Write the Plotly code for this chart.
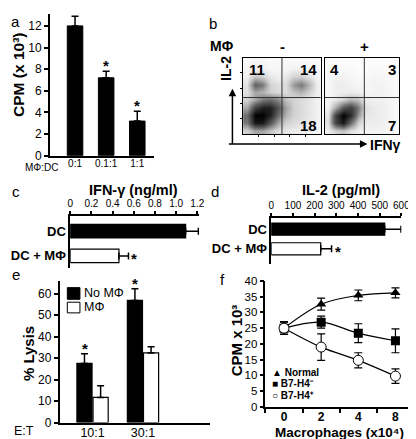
import plotly.graph_objects as go

W, H = 416, 439
FONT = "Arial, Liberation Sans, sans-serif"

def X(p):
    return p / W

def Y(p):
    return 1 - p / H

# ---------------- data ----------------
a_labels = ["0:1", "0.1:1", "1:1"]
a_cpm = [12.0, 7.2, 3.2]
a_err = [0.9, 0.6, 0.9]
a_sig = [False, True, True]

b_quad_neg = [11, 14, 18]   # UL, UR, LR
b_quad_pos = [4, 3, 7]
b_gate_neg = [0.50, 0.48]
b_gate_pos = [0.53, 0.48]
# density grids (rows bottom->top, cols left->right)
b_density_neg = [
    [0.15, 0.30, 0.30, 0.20, 0.10, 0.08, 0.06, 0.05, 0.05, 0.03],
    [0.45, 0.90, 0.90, 0.60, 0.30, 0.15, 0.12, 0.10, 0.07, 0.04],
    [0.50, 1.00, 1.00, 0.85, 0.50, 0.25, 0.15, 0.12, 0.08, 0.04],
    [0.30, 0.70, 0.85, 0.85, 0.60, 0.30, 0.15, 0.12, 0.08, 0.04],
    [0.15, 0.30, 0.45, 0.50, 0.40, 0.20, 0.14, 0.12, 0.08, 0.04],
    [0.10, 0.30, 0.25, 0.15, 0.12, 0.12, 0.20, 0.25, 0.15, 0.05],
    [0.10, 0.55, 0.45, 0.15, 0.10, 0.12, 0.35, 0.45, 0.25, 0.05],
    [0.05, 0.20, 0.15, 0.08, 0.05, 0.08, 0.15, 0.15, 0.10, 0.03],
    [0.03, 0.05, 0.05, 0.03, 0.03, 0.03, 0.05, 0.05, 0.03, 0.02],
    [0.02, 0.03, 0.03, 0.02, 0.02, 0.02, 0.02, 0.02, 0.02, 0.02],
]
b_density_pos = [
    [0.05, 0.15, 0.20, 0.10, 0.05, 0.04, 0.04, 0.04, 0.03, 0.02],
    [0.10, 0.70, 0.90, 0.50, 0.15, 0.06, 0.06, 0.05, 0.04, 0.02],
    [0.08, 0.70, 1.00, 0.80, 0.35, 0.08, 0.07, 0.06, 0.04, 0.02],
    [0.04, 0.30, 0.60, 0.70, 0.45, 0.10, 0.07, 0.06, 0.04, 0.02],
    [0.03, 0.08, 0.15, 0.25, 0.20, 0.06, 0.05, 0.05, 0.03, 0.02],
    [0.02, 0.05, 0.06, 0.06, 0.05, 0.03, 0.04, 0.04, 0.03, 0.02],
    [0.02, 0.06, 0.06, 0.04, 0.03, 0.03, 0.04, 0.04, 0.03, 0.02],
    [0.02, 0.04, 0.04, 0.03, 0.02, 0.02, 0.03, 0.03, 0.02, 0.02],
    [0.01, 0.02, 0.02, 0.02, 0.01, 0.01, 0.02, 0.02, 0.01, 0.01],
    [0.01, 0.01, 0.01, 0.01, 0.01, 0.01, 0.01, 0.01, 0.01, 0.01],
]

c_groups = ["DC", "DC + MΦ"]
c_ifng = [1.09, 0.46]
c_err = [0.12, 0.09]
c_sig = [False, True]

d_il2 = [523, 228]
d_err = [75, 50]
d_sig = [False, True]

e_ratios = ["10:1", "30:1"]
e_no_mf = [27.5, 56.8]
e_no_mf_err = [4.5, 5.4]
e_mf = [11.7, 32.4]
e_mf_err = [5.4, 2.8]
e_sig = [True, True]

f_x = ["0", "2", "4", "8"]
f_normal = [25.0, 32.6, 35.4, 36.2]
f_normal_err = [2.0, 1.9, 1.7, 1.6]
f_b7neg = [25.0, 26.9, 23.4, 21.0]
f_b7neg_err = [2.0, 1.9, 3.0, 3.8]
f_b7pos = [25.0, 19.0, 14.8, 9.8]
f_b7pos_err = [2.0, 4.2, 2.4, 2.3]

# ---------------- figure ----------------
fig = go.Figure()
ann = []
shapes = []

def err_up(arr):
    return dict(type="data", symmetric=False, array=arr, arrayminus=[0] * len(arr),
                color="black", thickness=1.5, width=3.5)

# panel a
fig.add_trace(go.Bar(x=a_labels, y=a_cpm, width=0.5, marker=dict(color="black", line=dict(color="black", width=1)),
                     error_y=err_up(a_err), xaxis="x", yaxis="y"))
for lab, v, e, s in zip(a_labels, a_cpm, a_err, a_sig):
    if s:
        ann.append(dict(x=lab, y=v + e, xref="x", yref="y", text="<b>*</b>", showarrow=False,
                        yanchor="bottom", yshift=-5, font=dict(size=15)))

# panel b
for dens, xa, ya in [(b_density_neg, "x2", "y2"), (b_density_pos, "x3", "y3")]:
    fig.add_trace(go.Heatmap(z=dens, x0=0.05, dx=0.1, y0=0.05, dy=0.1, zsmooth="best",
                             colorscale=[[0, "white"], [0.5, "#6a6a6a"], [1, "black"]], zmin=0, zmax=1,
                             showscale=False, xaxis=xa, yaxis=ya, hoverinfo="skip"))
for gate, xa, ya in [(b_gate_neg, "x2", "y2"), (b_gate_pos, "x3", "y3")]:
    shapes.append(dict(type="line", xref=xa, yref=ya, x0=gate[0], x1=gate[0], y0=0, y1=1,
                       line=dict(color="#333", width=1)))
    shapes.append(dict(type="line", xref=xa, yref=ya, x0=0, x1=1, y0=gate[1], y1=gate[1],
                       line=dict(color="#333", width=1)))
for quads, xa, ya in [(b_quad_neg, "x2", "y2"), (b_quad_pos, "x3", "y3")]:
    pos = [(0.05, 0.85, "left"), (0.98, 0.85, "right"), (0.98, 0.11, "right")]
    for q, (px_, py_, anc) in zip(quads, pos):
        ann.append(dict(x=px_, y=py_, xref=xa, yref=ya, text="<b>%d</b>" % q, showarrow=False,
                        xanchor=anc, font=dict(size=15)))

# panel c
fig.add_trace(go.Bar(y=c_groups, x=c_ifng, orientation="h", width=0.55,
                     marker=dict(color=["black", "white"], line=dict(color="black", width=1.2)),
                     error_x=err_up(c_err), xaxis="x4", yaxis="y4"))
for g, v, e, s in zip(c_groups, c_ifng, c_err, c_sig):
    if s:
        ann.append(dict(x=v + e, y=g, xref="x4", yref="y4", text="<b>*</b>", showarrow=False,
                        xanchor="left", xshift=1, yshift=-3, font=dict(size=15)))

# panel d
fig.add_trace(go.Bar(y=c_groups, x=d_il2, orientation="h", width=0.62,
                     marker=dict(color=["black", "white"], line=dict(color="black", width=1.2)),
                     error_x=err_up(d_err), xaxis="x5", yaxis="y5"))
for g, v, e, s in zip(c_groups, d_il2, d_err, d_sig):
    if s:
        ann.append(dict(x=v + e, y=g, xref="x5", yref="y5", text="<b>*</b>", showarrow=False,
                        xanchor="left", xshift=1, yshift=-3, font=dict(size=15)))

# panel e
fig.add_trace(go.Bar(x=e_ratios, y=e_no_mf, width=0.30, offset=-0.31,
                     marker=dict(color="black", line=dict(color="black", width=1.2)),
                     error_y=err_up(e_no_mf_err), xaxis="x6", yaxis="y6"))
fig.add_trace(go.Bar(x=e_ratios, y=e_mf, width=0.30, offset=0.01,
                     marker=dict(color="white", line=dict(color="black", width=1.2)),
                     error_y=err_up(e_mf_err), xaxis="x6", yaxis="y6"))
for r, v, e, s in zip(e_ratios, e_no_mf, e_no_mf_err, e_sig):
    if s:
        ann.append(dict(x=r, y=v + e, xref="x6", yref="y6", text="<b>*</b>", showarrow=False,
                        xanchor="center", xshift=-8, yanchor="bottom", yshift=-5, font=dict(size=15)))

# panel f
f_series = [
    (f_normal, f_normal_err, dict(symbol="triangle-up", size=9, color="black")),
    (f_b7neg, f_b7neg_err, dict(symbol="square", size=9, color="black")),
    (f_b7pos, f_b7pos_err, dict(symbol="circle", size=10, color="white", line=dict(color="black", width=1))),
]
for vals, errs, mk in f_series:
    fig.add_trace(go.Scatter(x=f_x, y=vals, mode="lines+markers", line=dict(color="black", width=1.2, shape="spline"),
                             marker=mk, error_y=dict(type="data", array=errs, color="black", thickness=1.2, width=4),
                             xaxis="x7", yaxis="y7"))

# ---------------- axes ----------------
base = dict(showgrid=False, zeroline=False, showline=True, linecolor="black", linewidth=1.5,
            ticks="outside", tickcolor="black", tickwidth=1.5, ticklen=4,
            tickfont=dict(family=FONT, size=12, color="black"))

def ax(**kw):
    d = dict(base)
    d.update(kw)
    return d

layout_axes = dict(
    xaxis=ax(domain=[X(40), X(147)], anchor="y", type="category", range=[-0.81, 2.53], ticks="",
             ticklabelstandoff=-2, tickfont=dict(family=FONT, size=10, color="black")),
    yaxis=ax(domain=[Y(146), Y(0)], anchor="x", range=[0, 13.1], tickvals=[0, 2, 4, 6, 8, 10, 12]),
    xaxis2=ax(domain=[X(239), X(319)], anchor="y2", range=[0, 1], linewidth=1, mirror=True,
              tickvals=[0.2, 0.4, 0.6, 0.8], ticklen=2, tickwidth=1, showticklabels=False),
    yaxis2=ax(domain=[Y(124), Y(45)], anchor="x2", range=[0, 1], linewidth=1, mirror=True,
              tickvals=[0.2, 0.4, 0.6, 0.8], ticklen=2, tickwidth=1, showticklabels=False),
    xaxis3=ax(domain=[X(323), X(400)], anchor="y3", range=[0, 1], linewidth=1, mirror=True,
              ticks="", showticklabels=False),
    yaxis3=ax(domain=[Y(124), Y(45)], anchor="x3", range=[0, 1], linewidth=1, mirror=True,
              ticks="", showticklabels=False),
    xaxis4=ax(domain=[X(61), X(194)], anchor="y4", side="top", range=[0, 1.22], ticklen=3,
              tickvals=[0, 0.2, 0.4, 0.6, 0.8, 1.0, 1.2], ticktext=["0", "0.2", "0.4", "0.6", "0.8", "1.0", "1.2"],
              tickfont=dict(family=FONT, size=10, color="black")),
    yaxis4=ax(domain=[Y(262), Y(208)], anchor="x4", type="category", range=[1.5, -0.62], ticks="",
              tickfont=dict(family=FONT, size=13, color="black"),
              ticktext=["<b>%s</b>" % g for g in c_groups], tickvals=c_groups),
    xaxis5=ax(domain=[X(268), X(402)], anchor="y5", side="top", range=[0, 600], ticklen=3,
              tickvals=[0, 100, 200, 300, 400, 500, 600],
              tickfont=dict(family=FONT, size=10, color="black")),
    yaxis5=ax(domain=[Y(258), Y(210)], anchor="x5", type="category", range=[1.79, -0.58], ticks="",
              tickfont=dict(family=FONT, size=13, color="black"),
              ticktext=["<b>%s</b>" % g for g in c_groups], tickvals=c_groups),
    xaxis6=ax(domain=[X(50), X(205)], anchor="y6", type="category", range=[-0.654, 2.33], ticks="",
              ticklabelstandoff=-2, tickfont=dict(family=FONT, size=12.5, color="black")),
    yaxis6=ax(domain=[Y(421), Y(275)], anchor="x6", range=[0, 65.9], tickvals=[0, 10, 20, 30, 40, 50, 60]),
    xaxis7=ax(domain=[X(262), X(415)], anchor="y7", type="category", range=[-0.5, 3.5], tickson="boundaries",
              ticklabelstandoff=-2,
              ticktext=["<b>%s</b>" % v for v in f_x], tickvals=f_x),
    yaxis7=ax(domain=[Y(405), Y(275)], anchor="x7", range=[0, 40], tickvals=list(range(0, 41, 5)),
              tickfont=dict(family=FONT, size=11.5, color="black")),
)

# ---------------- text ----------------
def txt(x, y, t, size=12, anchor="center", angle=0, bold=False):
    ann.append(dict(x=X(x), y=Y(y), xref="paper", yref="paper", text=("<b>%s</b>" % t) if bold else t,
                    showarrow=False, xanchor=anchor, yanchor="middle", textangle=angle,
                    font=dict(family=FONT, size=size, color="black")))

for letter, x, y in [("a", 5, 8), ("b", 208, 10), ("c", 5, 183), ("d", 210, 183), ("e", 5, 268), ("f", 218, 274)]:
    txt(x, y, letter, size=15)

txt(7, 63, "CPM (x 10³)", size=15.5, angle=-90, bold=True)
txt(32, 158, "MΦ:DC", size=10)
txt(217, 33, "MΦ", size=14, bold=True)
txt(280, 33, "-", size=15, bold=True)
txt(364, 33, "+", size=15, bold=True)
txt(222, 56, "IL-2", size=14, angle=-90, bold=True)
txt(386, 135, "IFNγ", size=14, bold=True)
txt(126, 181, "IFN-γ (ng/ml)", size=14.5, bold=True)
txt(340, 181, "IL-2 (pg/ml)", size=14.5, bold=True)
txt(18, 350, "% Lysis", size=15, angle=-90, bold=True)
txt(13, 430, "E:T", size=12.5)
txt(73, 288, "No MΦ", size=12.5, anchor="left")
txt(73, 302, "MΦ", size=12.5, anchor="left")
txt(232, 336, "CPM x 10³", size=15, angle=-90, bold=True)
txt(338, 431, "Macrophages (x10⁴)", size=13.5, bold=True)
txt(267, 369, "▲ Normal", size=10, anchor="left", bold=True)
txt(267, 381, "■ B7-H4⁻", size=10, anchor="left", bold=True)
txt(267, 393, "○ B7-H4⁺", size=10, anchor="left", bold=True)

# legend boxes of panel e
shapes.append(dict(type="rect", xref="paper", yref="paper", x0=X(58), x1=X(71), y0=Y(294), y1=Y(282),
                   fillcolor="black", line=dict(color="black", width=1)))
shapes.append(dict(type="rect", xref="paper", yref="paper", x0=X(58), x1=X(71), y0=Y(308), y1=Y(297),
                   fillcolor="white", line=dict(color="black", width=1)))

# flow axis arrows
ann.append(dict(x=X(228), y=Y(77), xref="paper", yref="paper", ax=0, ay=57, text="", showarrow=True,
                arrowhead=2, arrowsize=1, arrowwidth=1.5, arrowcolor="black"))
ann.append(dict(x=X(367), y=Y(134), xref="paper", yref="paper", ax=-140, ay=0, text="", showarrow=True,
                arrowhead=2, arrowsize=1, arrowwidth=1.5, arrowcolor="black"))

fig.update_layout(
    width=W, height=H, margin=dict(l=0, r=0, t=0, b=0),
    paper_bgcolor="white", plot_bgcolor="white", showlegend=False, barmode="overlay",
    font=dict(family=FONT, color="black"),
    annotations=ann, shapes=shapes, **layout_axes,
)

fig.write_html("out.html")
